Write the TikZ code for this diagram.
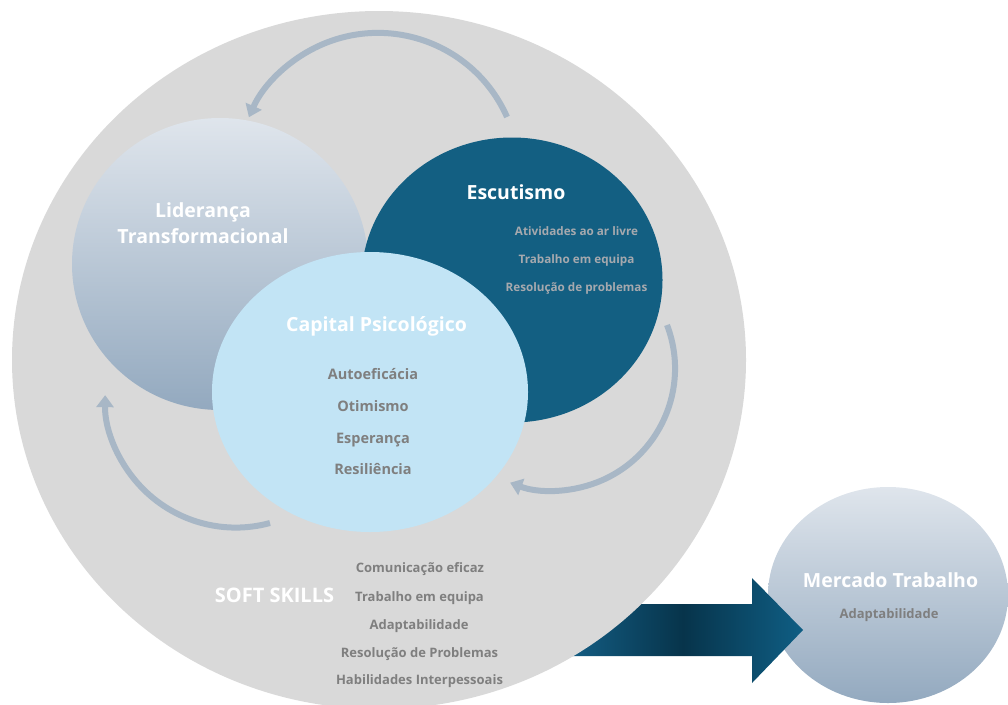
\documentclass[tikz,border=0pt]{standalone}
\usepackage{fontspec}
\setmainfont{Open Sans}
\usetikzlibrary{shapes.geometric,arrows.meta}
\definecolor{ringgrey}{HTML}{D9D9D9}
\definecolor{scoutblue}{HTML}{135F82}
\definecolor{capblue}{HTML}{C2E4F5}
\definecolor{mistTop}{HTML}{DFE5EC}
\definecolor{mistBot}{HTML}{93A9BF}
\definecolor{cyclecol}{HTML}{A8B7C6}
\definecolor{itemgrey}{HTML}{7F7F7F}
\definecolor{lightitem}{HTML}{A6A9AE}
\definecolor{arrowA}{HTML}{145F86}
\definecolor{arrowB}{HTML}{07344B}
\definecolor{arrowC}{HTML}{0F5E84}
\begin{document}
\begin{tikzpicture}[x=1pt,y=-1pt,
  blob/.style={ellipse, draw=none, inner sep=0pt},
  title/.style={anchor=base, text=white, inner sep=0pt, font=\fontsize{19.5}{24}\selectfont\bfseries},
  item/.style={anchor=base, text=itemgrey, inner sep=0pt, font=\fontsize{13}{16}\selectfont\bfseries},
  scoutitem/.style={anchor=base, text=lightitem, inner sep=0pt, font=\fontsize{11.7}{14}\selectfont\bfseries},
  capitem/.style={anchor=base, text=itemgrey, inner sep=0pt, font=\fontsize{14.5}{17}\selectfont\bfseries},
  loopar/.style={draw=cyclecol, line width=6pt, -{Triangle[width=17pt,length=12pt]}}]
\useasboundingbox (0,0) rectangle (1008,704);

% destination circle
\node[blob, top color=mistTop, bottom color=mistBot,
      minimum width=240pt, minimum height=216pt] (mercado) at (888,595) {};

% broad arrow leaving the soft-skills ring (middle colour set last)
\shade[left color=arrowA, right color=arrowC, middle color=arrowB]
  (563,604) -- (752,604) -- (752,578) -- (803,630) -- (752,683) -- (752,656) -- (563,656) -- cycle;

% large grey ring
\node[blob, fill=ringgrey, minimum width=734pt, minimum height=698pt] (ring) at (379,360) {};

% three overlapping circles
\node[blob, top color=mistTop, bottom color=mistBot,
      minimum width=296pt, minimum height=292pt] (lider) at (220,264) {};
\node[blob, fill=scoutblue, minimum width=301pt, minimum height=285pt] (escut) at (512,280) {};
\node[blob, fill=capblue, minimum width=316pt, minimum height=280pt] (capital) at (370,392) {};

% circular arrows between the circles
\coordinate (escTop) at (507,117);
\coordinate (escSide) at (667,325);
\coordinate (capLow) at (270,523);
\draw[loopar] (escTop) arc[start angle=23.8, end angle=156.3, radius=141pt];
\draw[loopar] (escSide) arc[start angle=20.9, end angle=-110.6, radius=122pt];
\draw[loopar] (capLow) arc[start angle=-74.8, end angle=-180.8, radius=130.6pt];

% Lideranca
\node[title] (liderA) at (203,217) {Liderança};
\node[title] (liderB) at (203,243) {Transformacional};

% Escutismo
\node[title] (escT) at (516,199) {Escutismo};
\node[scoutitem] (esc1) at (576.5,235) {Atividades ao ar livre};
\node[scoutitem] (esc2) at (576.5,263) {Trabalho em equipa};
\node[scoutitem] (esc3) at (576.5,291) {Resolução de problemas};

% Capital Psicologico
\node[title] (capT) at (376.5,331) {Capital Psicológico};
\node[capitem] (cap1) at (373,379) {Autoeficácia};
\node[capitem] (cap2) at (373,411) {Otimismo};
\node[capitem] (cap3) at (373,443) {Esperança};
\node[capitem] (cap4) at (373,474) {Resiliência};

% Soft skills
\node[title, font=\fontsize{20}{24}\selectfont\bfseries] (softT) at (274.5,602) {SOFT SKILLS};
\node[item] (soft1) at (420,572) {Comunicação eficaz};
\node[item] (soft2) at (419.5,601) {Trabalho em equipa};
\node[item] (soft3) at (419,629) {Adaptabilidade};
\node[item] (soft4) at (419.5,657) {Resolução de Problemas};
\node[item] (soft5) at (419.5,684) {Habilidades Interpessoais};

% Mercado Trabalho
\node[title] (merT) at (890.5,587) {Mercado Trabalho};
\node[item] (mer1) at (889,618) {Adaptabilidade};
\end{tikzpicture}
\end{document}
